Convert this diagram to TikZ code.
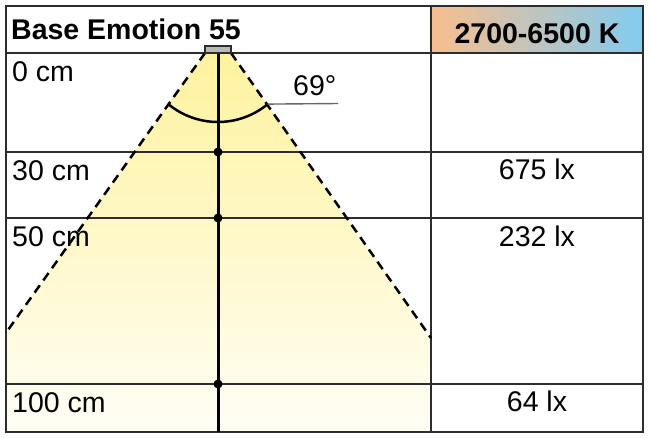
\documentclass[tikz,border=0pt]{standalone}
\usepackage{fontspec}
\setmainfont{Liberation Sans}
\usepackage{tikz}

\definecolor{beamyellow}{RGB}{255,242,158}
\definecolor{beammid}{RGB}{255,249,208}
\definecolor{beamwhite}{RGB}{255,254,246}
\definecolor{warmorange}{RGB}{248,190,142}
\definecolor{coolblue}{RGB}{130,203,240}
\definecolor{gridgray}{RGB}{45,45,45}

\tikzset{
  gridline/.style={line width=2.6pt, draw=gridgray},
  beamedge/.style={line width=2.5pt, dash pattern=on 9pt off 6pt},
  lbl/.style={font=\fontsize{28.5}{32}\selectfont, inner sep=0pt},
  hdr/.style={font=\fontsize{28.5}{32}\selectfont\bfseries, inner sep=0pt}
}

\begin{document}
\begin{tikzpicture}[x=1pt,y=1pt]
\useasboundingbox (0,0) rectangle (650,-437);

%Eckpunkte
\coordinate (TL) at (6,-6);
\coordinate (BR) at (643,-432);
\coordinate (lampL) at (205,-53);
\coordinate (lampR) at (231,-53);
\coordinate (edgeL) at (8,-330);
\coordinate (edgeR) at (431,-338);

%Lichtkegel
\shade[top color=beamyellow, middle color=beammid, bottom color=beamwhite]
  (lampL) -- (lampR) -- (edgeR) -- (431,-432) -- (6,-432) -- (6,-331) -- cycle;

%Farbtemperatur
\shade[left color=warmorange, middle color=white, right color=coolblue]
  (431,-6) rectangle (643,-53);

%Tabelle
\draw[gridline] (TL) rectangle (BR);
\draw[gridline] (6,-53) -- (643,-53);
\draw[gridline] (431,-6) -- (431,-432);
\foreach \y in {152,218,384}
  \draw[gridline] (6,-\y) -- (643,-\y);

%Achse
\coordinate (axisTop) at (218,-53);
\coordinate (axisBot) at (218,-432);
\draw[line width=3pt] (axisTop) -- (axisBot);
\foreach \y/\n in {152/d30,218/d50,384/d100}
  \fill (218,-\y) circle (4.5pt) coordinate (\n);

%Kegelrand
\draw[beamedge] (lampL) -- (edgeL);
\draw[beamedge] (lampR) -- (edgeR);

%Winkel
\draw[line width=2.5pt] (218,-44) ++(230.4:78) arc[start angle=230.4, end angle=309.6, radius=78] coordinate (arcR);
\draw[gray!80!black, line width=1.4pt] (arcR) -- (338,-103.5);
\node[lbl, anchor=base west] (angle) at (293,-95) {69°};

%Leuchte
\draw[fill=gray!55, line width=2pt, draw=gridgray] (205,-46) rectangle (231,-53);

%Beschriftung
\node[hdr, anchor=base west] (title) at (11,-39) {Base Emotion 55};
\node[hdr, anchor=base] (cct) at (537,-43) {2700-6500 K};
\node[lbl, anchor=base west] (h0) at (12,-81) {0 cm};
\node[lbl, anchor=base west] (h30) at (12,-180) {30 cm};
\node[lbl, anchor=base west] (h50) at (12,-246) {50 cm};
\node[lbl, anchor=base west] (h100) at (12,-412) {100 cm};
\node[lbl, anchor=base] (lx30) at (537,-179) {675 lx};
\node[lbl, anchor=base] (lx50) at (537,-246) {232 lx};
\node[lbl, anchor=base] (lx100) at (537,-411) {64 lx};
\end{tikzpicture}
\end{document}
